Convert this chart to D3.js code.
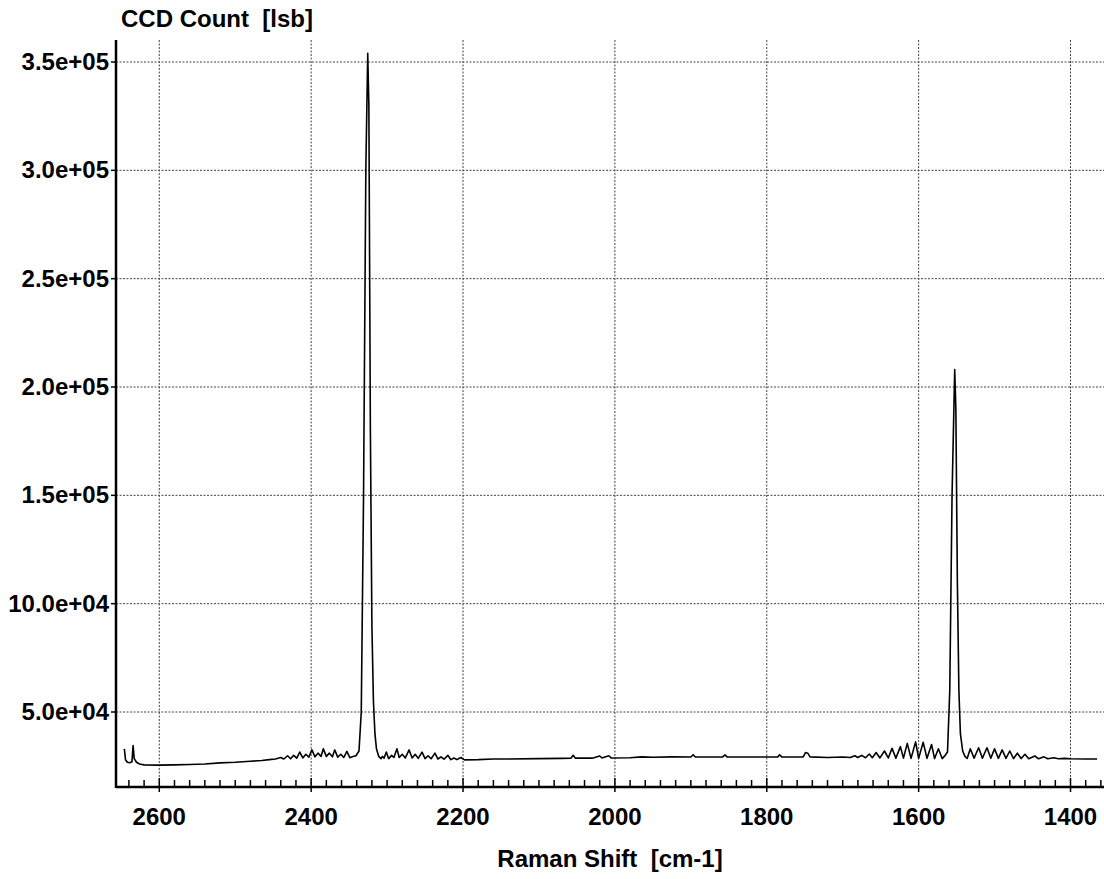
<!DOCTYPE html>
<html lang="en">
<script src="https://d3js.org/d3.v7.min.js"></script>
<head>
  <meta charset="UTF-8">
  <title>Raman spectrum</title>
  <style>
    body { margin: 0; background: white; }
    svg { display: block; }
    text { font-family: "Liberation Sans", Arial, sans-serif; font-weight: bold; fill: black; }
    .grid { stroke: #444; stroke-width: 1px; stroke-dasharray: 2,1.5; fill: none; }
    .axis { stroke: black; stroke-width: 2.5px; fill: none; }
    .tick { stroke: black; stroke-width: 1.5px; }
    .spectrum { fill: none; stroke: black; stroke-width: 1.6px; stroke-linejoin: round; }
  </style>
</head>
<body>
<svg width="1104" height="879"></svg>
<script>
// values (Raman shift in cm-1, CCD count in lsb)
var shift = [
  2646, 2644.5, 2642, 2639, 2636, 2634.5, 2633, 2630, 2626, 2620, 2600, 2580, 2560, 2540, 2520, 2500,
  2480, 2465, 2455, 2447, 2440, 2436, 2431, 2427, 2423, 2419, 2415, 2411, 2407, 2403, 2399, 2395,
  2391, 2387, 2384, 2380, 2376, 2372, 2369, 2365, 2361, 2357, 2353, 2349, 2345, 2341,
  2337, 2334, 2331, 2328, 2325.5, 2324, 2322, 2320, 2318, 2316, 2314, 2311, 2308,
  2306, 2304, 2301, 2298, 2294, 2291, 2287, 2284, 2280, 2276, 2271, 2267, 2263, 2259, 2254, 2250,
  2246, 2242, 2237, 2233, 2229, 2225, 2220, 2216, 2212, 2208, 2203, 2198, 2180, 2160, 2140, 2100,
  2070, 2058, 2055, 2052, 2030, 2020, 2017, 2008, 2005, 1980, 1965, 1950, 1925, 1900, 1897, 1894,
  1870, 1858, 1855, 1852, 1800, 1786, 1783, 1780, 1752, 1749, 1746, 1743, 1720, 1700, 1690, 1684,
  1680, 1675, 1670, 1665, 1661, 1656, 1651, 1645, 1640, 1635, 1630, 1624, 1620, 1615, 1610, 1604,
  1600, 1594, 1589, 1583, 1579, 1574, 1569, 1565, 1562, 1559, 1556, 1552.5, 1551, 1549, 1547, 1545,
  1542, 1539, 1536, 1532, 1527, 1521, 1516, 1510, 1505, 1500, 1495, 1490, 1485, 1480, 1475, 1470,
  1465, 1460, 1455, 1447, 1442, 1435, 1430, 1422, 1416, 1408, 1400, 1380, 1365
];
var counts = [
  33000, 28000, 26800, 26600, 27000, 34500, 28500, 26800, 26000, 25600, 25500, 25600, 25800, 26000, 26500, 26800,
  27300, 27600, 28000, 28300, 29000, 28300, 29800, 28400, 30000, 28700, 31500, 28800, 30500, 29200, 32500, 29300,
  31000, 29500, 33000, 29500, 31000, 29300, 32500, 29200, 30500, 29000, 31800, 28900, 29500, 29800,
  32000, 50000, 150000, 300000, 354000, 330000, 180000, 90000, 55000, 40000, 33000, 29500, 28500,
  29500, 28700, 31500, 28500, 30000, 29000, 33000, 29000, 30500, 28800, 32500, 28800, 30500, 28600, 31500, 28500,
  29800, 28400, 31000, 28300, 29300, 28200, 30000, 28000, 28800, 28000, 29000, 27900, 28000, 28300, 28300, 28500,
  28600, 28700, 30000, 28700, 28700, 29700, 28800, 29800, 28800, 28900, 29300, 29100, 29300, 29200, 30300, 29200,
  29200, 29300, 30200, 29200, 29200, 29200, 30200, 29200, 29300, 31300, 31000, 29300, 29000, 29200, 29000, 29800,
  29000, 30000, 28900, 30600, 28900, 31300, 28800, 32000, 28800, 33200, 28700, 34000, 28700, 35500, 28600, 36200,
  28600, 36000, 28600, 35000, 28500, 33000, 28500, 30000, 31500, 60000, 150000, 208000, 190000, 110000, 60000, 40000,
  32000, 29500, 28600, 33000, 28700, 33500, 28700, 33500, 28700, 33000, 28600, 32500, 28600, 32000, 28500, 31000,
  28500, 30500, 28400, 29700, 28400, 29300, 28400, 28900, 28400, 28600, 28400, 28300, 28300
];

var xTicks = [2600, 2400, 2200, 2000, 1800, 1600, 1400];
var yTicks = [50000, 100000, 150000, 200000, 250000, 300000, 350000];
var yTickLabels = ["5.0e+04", "10.0e+04", "1.5e+05", "2.0e+05", "2.5e+05", "3.0e+05", "3.5e+05"];

var svg = d3.select("svg");

var plotLeft = 116, plotRight = 1110, plotTop = 40, plotBottom = 787;

var x = d3.scaleLinear().domain([2657, 1348]).range([plotLeft, plotRight]);
var y = d3.scaleLinear().domain([15385, 360154]).range([plotBottom, plotTop]);

// grid
svg.append("g").selectAll("line").data(xTicks).enter().append("line")
  .attr("class", "grid")
  .attr("x1", d => x(d)).attr("x2", d => x(d))
  .attr("y1", plotTop).attr("y2", plotBottom);

svg.append("g").selectAll("line").data(yTicks).enter().append("line")
  .attr("class", "grid")
  .attr("x1", plotLeft).attr("x2", plotRight)
  .attr("y1", d => y(d)).attr("y2", d => y(d));

// minor x ticks every 20 cm-1
var minor = d3.range(2640, 1340, -20).filter(d => d % 200 !== 0);
svg.append("g").selectAll("line").data(minor).enter().append("line")
  .attr("class", "tick")
  .attr("x1", d => x(d)).attr("x2", d => x(d))
  .attr("y1", plotBottom - 7).attr("y2", plotBottom);

svg.append("g").selectAll("line").data(xTicks).enter().append("line")
  .attr("class", "tick")
  .attr("x1", d => x(d)).attr("x2", d => x(d))
  .attr("y1", plotBottom - 9).attr("y2", plotBottom + 5);

svg.append("g").selectAll("line").data(yTicks).enter().append("line")
  .attr("class", "tick")
  .attr("x1", plotLeft - 5).attr("x2", plotLeft)
  .attr("y1", d => y(d)).attr("y2", d => y(d));

// axes
svg.append("line").attr("class", "axis")
  .attr("x1", plotLeft).attr("x2", plotLeft).attr("y1", plotTop).attr("y2", plotBottom + 1);
svg.append("line").attr("class", "axis")
  .attr("x1", plotLeft).attr("x2", 1104).attr("y1", plotBottom).attr("y2", plotBottom);

// spectrum
var line = d3.line()
  .x((d, i) => x(shift[i]))
  .y(d => y(d));

svg.append("path")
  .datum(counts)
  .attr("class", "spectrum")
  .attr("d", line);

// labels
svg.append("g").selectAll("text").data(xTicks).enter().append("text")
  .attr("x", d => x(d)).attr("y", 825)
  .attr("text-anchor", "middle")
  .style("font-size", "24px")
  .text(d => d);

svg.append("g").selectAll("text").data(yTicks).enter().append("text")
  .attr("x", plotLeft - 7).attr("y", d => y(d) + 8)
  .attr("text-anchor", "end")
  .style("font-size", "24px")
  .text((d, i) => yTickLabels[i]);

svg.append("text")
  .attr("x", 121).attr("y", 27)
  .style("font-size", "24px")
  .style("white-space", "pre")
  .text("CCD Count  [lsb]");

svg.append("text")
  .attr("x", 610).attr("y", 867)
  .attr("text-anchor", "middle")
  .style("font-size", "24px")
  .style("white-space", "pre")
  .text("Raman Shift  [cm-1]");
</script>
</body>
</html>
